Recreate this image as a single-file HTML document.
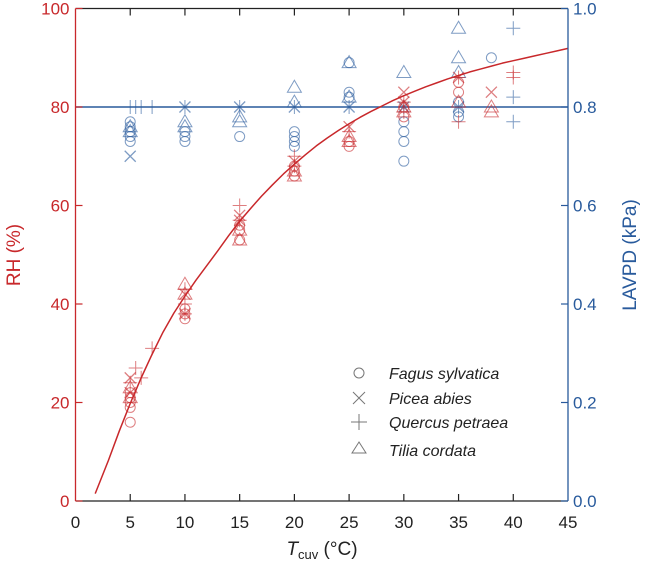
<!DOCTYPE html>
<html><head><meta charset="utf-8"><style>
html,body{margin:0;padding:0;background:#fff;}
svg{display:block;font-family:"Liberation Sans",sans-serif;}
</style></head><body>
<svg id="chart" width="650" height="561" viewBox="0 0 650 561">
<g id="marks"></g>
<g id="axes"></g>
</svg>
<script>
const xTicks=[0,5,10,15,20,25,30,35,40,45];
const rhTicks=[0,20,40,60,80,100];
const lavpdTicks=["0.0","0.2","0.4","0.6","0.8","1.0"];
// fitted curve samples (T, RH)
const curveT=[1.8,2.5,3,4,5,6,7,8,9,10,11,12,13,14,15,16,17,18,19,20,21,22,23,24,25,26,27,28,29,30,31,32,33,34,35,36,37,38,39,40,41,42,43,44,45];
const curveRH=[1.5,5.4,8.2,14.2,19.8,25,29.8,34.3,38.2,41.6,44.8,47.8,50.8,53.9,56.8,59.4,61.9,64.2,66.4,68.4,70.3,72.1,73.7,75.2,76.6,77.9,79.1,80.2,81.3,82.3,83.2,84.1,84.9,85.7,86.4,87.1,87.7,88.3,88.9,89.4,89.9,90.4,90.9,91.4,91.9];
const lavpdRef=0.8;
// red RH points [T, RH]
const rhCircle=[[5,16],[5,19],[5,20],[5,21],[5,22],[10,37],[10,38],[10,39],[15,53],[15,55],[15,56],[20,66],[20,67],[20,68],[25,72],[25,73],[30,78],[30,80],[35,83],[35,85]];
const rhCross=[[5,25],[5,22],[10,42],[10,38],[15,57],[15,58],[20,69],[25,76],[30,81],[30,83],[35,86],[38,83]];
const rhPlus=[[5,24],[5.5,27],[6,25],[7,31],[10,40],[10,43],[10,38],[15,60],[15,57],[20,70],[20,68],[25,75],[30,79],[30,81],[35,86],[35,77],[40,87],[40,86]];
const rhTri=[[5,21],[5,23],[10,44],[10,42],[15,53],[15,55],[20,66],[20,67],[25,73],[25,74],[30,79],[30,80],[35,81],[38,79],[38,80]];
// blue LAVPD points [T, kPa]
const vpCircle=[[5,0.73],[5,0.74],[5,0.75],[5,0.76],[5,0.77],[10,0.73],[10,0.74],[10,0.75],[15,0.74],[20,0.72],[20,0.73],[20,0.74],[20,0.75],[25,0.89],[25,0.83],[25,0.82],[30,0.69],[30,0.73],[30,0.75],[30,0.77],[35,0.78],[35,0.79],[35,0.81],[38,0.90]];
const vpCross=[[5,0.70],[10,0.80],[15,0.80],[20,0.80],[25,0.80],[30,0.80],[35,0.80]];
const vpPlus=[[5,0.80],[5.5,0.80],[6,0.80],[7,0.80],[10,0.80],[15,0.80],[20,0.80],[25,0.80],[30,0.80],[35,0.80],[40,0.96],[40,0.82],[40,0.77]];
const vpTri=[[5,0.75],[5,0.76],[10,0.76],[10,0.77],[15,0.77],[15,0.78],[20,0.84],[20,0.81],[25,0.89],[25,0.82],[30,0.87],[35,0.96],[35,0.90],[35,0.87]];

const X0=75.5,X1=568,Y0=501,Y1=8.5;
const sx=t=>X0+(X1-X0)*t/45;
const sy=v=>Y0-(Y0-Y1)*v/100;
const sy2=v=>Y0-(Y0-Y1)*v/1.0;
const NS="http://www.w3.org/2000/svg";
const RED="#c8282b",BLUE="#285a9c";
function mk(tag,attrs,parent){const e=document.createElementNS(NS,tag);for(const k in attrs)e.setAttribute(k,attrs[k]);parent.appendChild(e);return e;}
const marks=document.getElementById('marks'),axes=document.getElementById('axes');

function marker(shape,x,y,color,op,parent,name){
  let e;const r=5.5;
  if(shape==='circle'){e=mk('circle',{cx:x,cy:y,r:5,fill:'none',stroke:color,'stroke-width':1,opacity:op},parent);}
  else if(shape==='cross'){e=mk('path',{d:`M${x-r} ${y-r}L${x+r} ${y+r}M${x-r} ${y+r}L${x+r} ${y-r}`,stroke:color,'stroke-width':1.3,fill:'none',opacity:op},parent);}
  else if(shape==='plus'){e=mk('path',{d:`M${x-7} ${y}L${x+7} ${y}M${x} ${y-7}L${x} ${y+7}`,stroke:color,'stroke-width':1,fill:'none',opacity:op},parent);}
  else {e=mk('path',{d:`M${x} ${y-7}L${x+7} ${y+5}L${x-7} ${y+5}Z`,stroke:color,'stroke-width':1,fill:'none',opacity:op},parent);}
  
  
  return e;
}
[[vpCircle,'circle'],[vpCross,'cross'],[vpPlus,'plus'],[vpTri,'triangle']].forEach(([arr,s])=>{
  arr.forEach(p=>marker(s,sx(p[0]),sy2(p[1]),BLUE,0.6,marks,'lavpd-point-'+s));
});
const ref=mk('line',{x1:X0,x2:X1,y1:sy2(lavpdRef),y2:sy2(lavpdRef),stroke:BLUE,'stroke-width':1.5},marks);


[[rhCircle,'circle'],[rhCross,'cross'],[rhPlus,'plus'],[rhTri,'triangle']].forEach(([arr,s])=>{
  arr.forEach(p=>marker(s,sx(p[0]),sy(p[1]),RED,0.6,marks,'rh-point-'+s));
});
const cp=mk('polyline',{points:curveT.map((t,i)=>sx(t)+','+sy(curveRH[i])).join(' '),fill:'none',stroke:RED,'stroke-width':1.5,'stroke-linejoin':'round'},marks);



let l;
l=mk('line',{x1:X0,x2:X1,y1:Y1,y2:Y1,stroke:'#222','stroke-width':1.3},axes);
l=mk('line',{x1:X0,x2:X1,y1:Y0,y2:Y0,stroke:'#222','stroke-width':1.3},axes);
l=mk('line',{x1:X0,x2:X0,y1:Y1,y2:Y0,stroke:RED,'stroke-width':1.3},axes);
l=mk('line',{x1:X1,x2:X1,y1:Y1,y2:Y0,stroke:BLUE,'stroke-width':1.3},axes);
xTicks.forEach(t=>{
  const x=sx(t);
  if(t>0&&t<45){mk('line',{x1:x,x2:x,y1:Y0,y2:Y0-7,stroke:'#222','stroke-width':1.2},axes);mk('line',{x1:x,x2:x,y1:Y1,y2:Y1+7,stroke:'#222','stroke-width':1.2},axes);}
  const tx=mk('text',{x:x,y:528,'text-anchor':'middle','font-size':17,fill:'#222'},axes);tx.textContent=t;
  
});
rhTicks.forEach(v=>{
  const y=sy(v);
  mk('line',{x1:X0,x2:X0+7,y1:y,y2:y,stroke:RED,'stroke-width':1.2},axes);
  const tx=mk('text',{x:X0-6,y:y+6,'text-anchor':'end','font-size':17,fill:RED},axes);tx.textContent=v;
  
});
lavpdTicks.forEach(v=>{
  const y=sy2(parseFloat(v));
  mk('line',{x1:X1,x2:X1-7,y1:y,y2:y,stroke:BLUE,'stroke-width':1.2},axes);
  const tx=mk('text',{x:X1+5,y:y+6,'font-size':17,fill:BLUE},axes);tx.textContent=v;
  
});
</script>
<svg style="position:absolute;left:0;top:0" width="650" height="561">
<text x="20" y="255" transform="rotate(-90 20 255)" text-anchor="middle" font-family="Liberation Sans,sans-serif" font-size="19" fill="#c8282b">RH (%)</text>
<text x="636" y="255" transform="rotate(-90 636 255)" text-anchor="middle" font-family="Liberation Sans,sans-serif" font-size="19" fill="#285a9c">LAVPD (kPa)</text>
<text x="322" y="555" text-anchor="middle" font-family="Liberation Sans,sans-serif" font-size="19" fill="#222"><tspan font-style="italic">T</tspan><tspan font-size="13" dy="4">cuv</tspan><tspan dy="-4"> (°C)</tspan></text>
<g font-family="Liberation Sans,sans-serif" font-size="16" font-style="italic" fill="#222" stroke-width="1">
 <g><circle cx="359" cy="373" r="5" fill="none" stroke="#777"/><text x="389" y="379">Fagus sylvatica</text></g>
 <g><path d="M353 392L365 404M353 404L365 392" stroke="#777" fill="none"/><text x="389" y="404">Picea abies</text></g>
 <g><path d="M351 422L367 422M359 414L359 430" stroke="#777" fill="none"/><text x="389" y="428">Quercus petraea</text></g>
 <g><path d="M359 442L366 453L352 453Z" stroke="#777" fill="none"/><text x="389" y="456">Tilia cordata</text></g>
</g>
</svg>
</body></html>
